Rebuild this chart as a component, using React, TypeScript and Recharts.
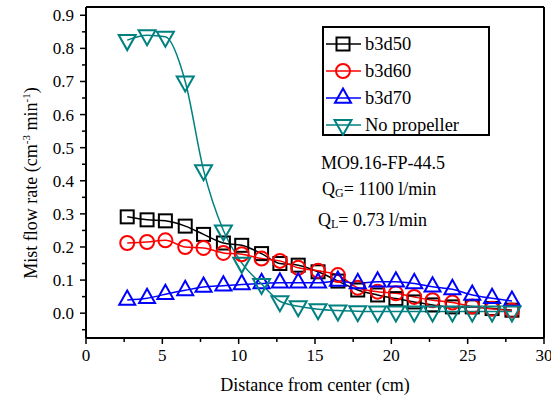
import React from "react";
import { Legend, Line, LineChart, XAxis, YAxis } from "recharts";

const distance = [
  2.7, 4.0, 5.2, 6.5, 7.7, 9.0, 10.2, 11.5, 12.7, 13.9, 15.2, 16.5, 17.8, 19.1,
  20.3, 21.5, 22.7, 24.0, 25.3, 26.6, 27.9,
];
const b3d50 = [
  0.291, 0.282, 0.279, 0.263, 0.238, 0.212, 0.205, 0.18, 0.15, 0.145, 0.125,
  0.097, 0.07, 0.055, 0.044, 0.034, 0.025, 0.019, 0.019, 0.014, 0.009,
];
const b3d60 = [
  0.212, 0.215, 0.22, 0.2, 0.197, 0.182, 0.178, 0.165, 0.158, 0.137, 0.128,
  0.115, 0.077, 0.065, 0.06, 0.049, 0.039, 0.032, 0.02, 0.013, 0.008,
];
const b3d70 = [
  0.04, 0.045, 0.057, 0.069, 0.079, 0.083, 0.087, 0.09, 0.092, 0.092, 0.092,
  0.097, 0.09, 0.095, 0.095, 0.09, 0.08, 0.072, 0.055, 0.045, 0.037,
];
const noPropeller = [
  0.825, 0.84, 0.835, 0.7, 0.432, 0.25, 0.152, 0.088, 0.036, 0.021, 0.012,
  0.008, 0.006, 0.005, 0.005, 0.005, 0.005, 0.005, 0.005, 0.005, 0.005,
];

const xTicks = [0, 2.5, 5, 7.5, 10, 12.5, 15, 17.5, 20, 22.5, 25, 27.5, 30];
const yTicks = [
  -0.05, 0, 0.05, 0.1, 0.15, 0.2, 0.25, 0.3, 0.35, 0.4, 0.45, 0.5, 0.55, 0.6,
  0.65, 0.7, 0.75, 0.8, 0.85, 0.9,
];

const rows = distance.map((x, i) => ({
  x,
  b3d50: b3d50[i],
  b3d60: b3d60[i],
  b3d70: b3d70[i],
  none: noPropeller[i],
}));

const FONT = "'Liberation Serif', 'Times New Roman', serif";

type Shape = "square" | "circle" | "up" | "down";

const series: { key: string; name: string; color: string; shape: Shape }[] = [
  { key: "b3d50", name: "b3d50", color: "#000000", shape: "square" },
  { key: "b3d60", name: "b3d60", color: "#ff0000", shape: "circle" },
  { key: "b3d70", name: "b3d70", color: "#0000ff", shape: "up" },
  { key: "none", name: "No propeller", color: "#008080", shape: "down" },
];

function Marker({ cx, cy, shape, color }: any) {
  const common = { fill: "none", stroke: color, strokeWidth: 2 };
  if (shape === "square")
    return <rect x={cx - 6.5} y={cy - 6.5} width={13} height={13} {...common} />;
  if (shape === "circle") return <circle cx={cx} cy={cy} r={7} {...common} />;
  if (shape === "up")
    return (
      <polygon
        points={`${cx},${cy - 9.5} ${cx - 8},${cy + 4.8} ${cx + 8},${cy + 4.8}`}
        {...common}
      />
    );
  return (
    <polygon
      points={`${cx - 8.5},${cy - 5} ${cx + 8.5},${cy - 5} ${cx},${cy + 10}`}
      {...common}
    />
  );
}

const isMajor = (v: number, step: number) =>
  Math.abs(v / step - Math.round(v / step)) < 1e-6;

function YTick({ x, y, payload }: any) {
  const v = payload.value;
  const major = isMajor(v, 0.1) && v >= 0;
  return (
    <g>
      <line x1={x} x2={x - (major ? 6 : 4)} y1={y} y2={y} stroke="#000" strokeWidth={1.5} />
      {major && (
        <text x={x - 12} y={y + 6} textAnchor="end" fontFamily={FONT} fontSize={17} fill="#000">
          {v.toFixed(1)}
        </text>
      )}
    </g>
  );
}

function XTick({ x, y, payload }: any) {
  const v = payload.value;
  const major = isMajor(v, 5);
  return (
    <g>
      <line x1={x} x2={x} y1={y} y2={y + (major ? 6 : 4)} stroke="#000" strokeWidth={1.5} />
      {major && (
        <text x={x} y={y + 23} textAnchor="middle" fontFamily={FONT} fontSize={17} fill="#000">
          {v}
        </text>
      )}
    </g>
  );
}

function LegendBox() {
  return (
    <svg width={168} height={110} style={{ display: "block" }}>
      <rect x={1} y={1} width={166} height={108} fill="#fff" stroke="#000" strokeWidth={2} />
      {series.map((s, i) => {
        const cy = 18 + i * 27;
        return (
          <g key={s.key}>
            <line x1={4} x2={39} y1={cy} y2={cy} stroke={s.color} strokeWidth={1.5} />
            <Marker cx={21} cy={cy} shape={s.shape} color={s.color} />
            <text x={43} y={cy + 6} fontFamily={FONT} fontSize={18.5} fill="#000">
              {s.name}
            </text>
          </g>
        );
      })}
    </svg>
  );
}

export default function App() {
  const axisStyle = { stroke: "#000", strokeWidth: 2 };
  return (
    <div style={{ position: "absolute", left: 0, top: 0, background: "#fff" }}>
      <LineChart width={551} height={400} data={rows} margin={{ top: 0, right: 0, bottom: 0, left: 0 }}>
        <XAxis
          xAxisId="b"
          type="number"
          dataKey="x"
          domain={[0, 30]}
          ticks={xTicks}
          interval={0}
          height={62}
          tickSize={0}
          tickMargin={0}
          tickLine={false}
          axisLine={axisStyle}
          tick={(p: any) => <XTick {...p} />}
        />
        <XAxis
          xAxisId="t"
          orientation="top"
          type="number"
          dataKey="x"
          domain={[0, 30]}
          ticks={xTicks}
          interval={0}
          height={7}
          tickSize={2}
          tick={false}
          axisLine={axisStyle}
          tickLine={{ stroke: "#000", strokeWidth: 1.5 }}
        />
        <YAxis
          yAxisId="l"
          type="number"
          domain={[-0.075, 0.925]}
          ticks={yTicks}
          interval={0}
          width={86}
          tickSize={0}
          tickMargin={0}
          tickLine={false}
          axisLine={axisStyle}
          tick={(p: any) => <YTick {...p} />}
        />
        <YAxis
          yAxisId="r"
          orientation="right"
          type="number"
          domain={[-0.075, 0.925]}
          ticks={yTicks}
          interval={0}
          width={7}
          tickSize={3}
          tick={false}
          axisLine={axisStyle}
          tickLine={{ stroke: "#000", strokeWidth: 1.5 }}
        />
        {series.map((s) => (
          <Line
            key={s.key}
            xAxisId="b"
            yAxisId="l"
            type="monotone"
            dataKey={s.key}
            name={s.name}
            stroke={s.color}
            strokeWidth={1.5}
            isAnimationActive={false}
            dot={(p: any) => (
              <Marker key={`${s.key}-${p.index}`} cx={p.cx} cy={p.cy} shape={s.shape} color={s.color} />
            )}
            activeDot={false}
          />
        ))}
        <Legend
          layout="horizontal"
          verticalAlign="middle"
          align="center"
          wrapperStyle={{ position: "absolute", left: 322, top: 26, width: 168, height: 110 }}
          content={() => <LegendBox />}
        />
        <text fontFamily={FONT} fontSize={18} fill="#000" x={321} y={169}>
          MO9.16-FP-44.5
        </text>
        <text fontFamily={FONT} fontSize={18} fill="#000" x={322} y={195}>
          Q<tspan fontSize={12} dy={2}>G</tspan>
          <tspan dy={-2}>= 1100 l/min</tspan>
        </text>
        <text fontFamily={FONT} fontSize={18} fill="#000" x={318} y={226}>
          Q<tspan fontSize={12} dy={2}>L</tspan>
          <tspan dy={-2}>= 0.73 l/min</tspan>
        </text>
        <text fontFamily={FONT} fontSize={18} fill="#000" x={315} y={391} textAnchor="middle">
          Distance from center (cm)
        </text>
        <text
          fontFamily={FONT}
          fontSize={18}
          fill="#000"
          textAnchor="middle"
          transform="translate(37,183) rotate(-90)"
        >
          Mist flow rate (cm<tspan fontSize={11} dy={-7}>-3</tspan>
          <tspan dy={7}> min</tspan>
          <tspan fontSize={11} dy={-7}>-1</tspan>
          <tspan dy={7}>)</tspan>
        </text>
      </LineChart>
    </div>
  );
}
